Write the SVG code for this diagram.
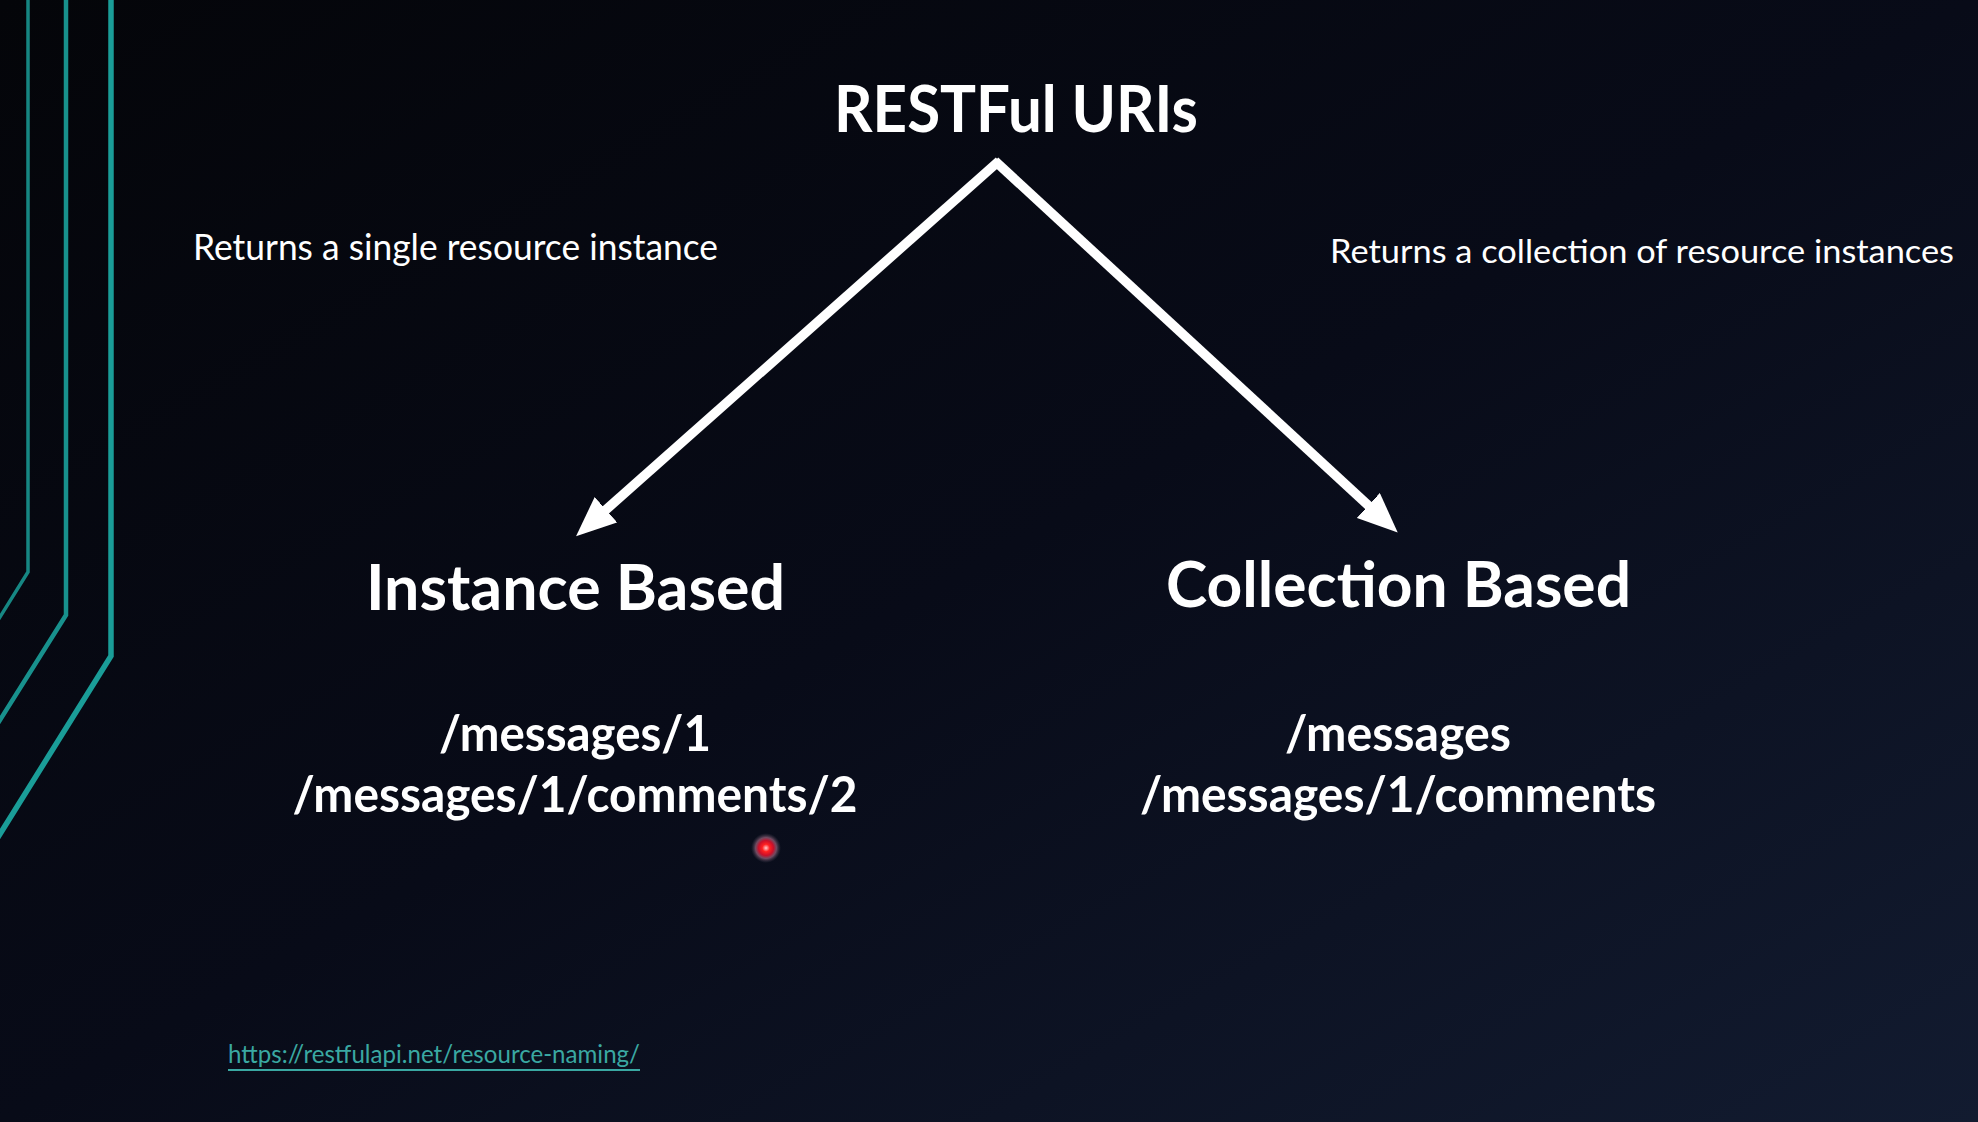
<svg xmlns="http://www.w3.org/2000/svg" width="1978" height="1122" viewBox="0 0 1978 1122">
<defs>
<linearGradient id="bg" x1="0" y1="0" x2="1" y2="1">
<stop offset="0" stop-color="#040509"/>
<stop offset="0.5" stop-color="#080b18"/>
<stop offset="1" stop-color="#121b30"/>
</linearGradient>
<radialGradient id="dot">
<stop offset="0" stop-color="#ffd0d0"/>
<stop offset="0.25" stop-color="#ff2020"/>
<stop offset="0.5" stop-color="#c8102a"/>
<stop offset="0.7" stop-color="#8a5a72" stop-opacity="0.8"/>
<stop offset="1" stop-color="#404050" stop-opacity="0"/>
</radialGradient>
<marker id="ah" viewBox="0 0 40 34" markerWidth="40" markerHeight="34" refX="20" refY="17" orient="auto" markerUnits="userSpaceOnUse">
<path d="M0,0 L40,17 L0,34 z" fill="#ffffff"/>
</marker>
<style>
.t{font-family:Lato,"Open Sans","Liberation Sans",sans-serif;fill:#ffffff}
.b{font-weight:bold}
.deco{fill:none;stroke:#1a9d98}
.arr{stroke:#ffffff;stroke-width:9.5;fill:none}
</style>
</defs>
<rect width="1978" height="1122" fill="url(#bg)"/>
<g id="decoration">
<polyline class="deco" points="28,-5 28,572 -10,633" stroke-width="3.5" opacity="0.85"/>
<polyline class="deco" points="66,-5 66,615 -10,736" stroke-width="4.5" opacity="0.92"/>
<polyline class="deco" points="111,-5 111,656 -10,850" stroke-width="5.5"/>
</g>
<g id="connectors">
<line class="arr" x1="999" y1="161" x2="591" y2="523" marker-end="url(#ah)"/>
<line class="arr" x1="995" y1="161" x2="1383" y2="519" marker-end="url(#ah)"/>
</g>
<g id="root">
<text class="t b" x="1016" y="132" font-size="65" text-anchor="middle" textLength="364" lengthAdjust="spacingAndGlyphs">RESTFul URIs</text>
</g>
<g id="note-single">
<text class="t" x="193" y="260" font-size="37" textLength="525" lengthAdjust="spacingAndGlyphs">Returns a single resource instance</text>
</g>
<g id="note-collection">
<text class="t" x="1330" y="263" font-size="33" textLength="624" lengthAdjust="spacingAndGlyphs">Returns a collection of resource instances</text>
</g>
<g id="instance">
<text class="t b" x="366" y="610" font-size="63" textLength="419" lengthAdjust="spacingAndGlyphs">Instance Based</text>
<text class="t b" x="575" y="751" font-size="49" text-anchor="middle" textLength="272" lengthAdjust="spacingAndGlyphs">/messages/1</text>
<text class="t b" x="575" y="812" font-size="49" text-anchor="middle" textLength="565" lengthAdjust="spacingAndGlyphs">/messages/1/comments/2</text>
</g>
<g id="collection">
<text class="t b" x="1166" y="607" font-size="63" textLength="465" lengthAdjust="spacingAndGlyphs">Collection Based</text>
<text class="t b" x="1398" y="751" font-size="49" text-anchor="middle" textLength="226" lengthAdjust="spacingAndGlyphs">/messages</text>
<text class="t b" x="1398" y="812" font-size="49" text-anchor="middle" textLength="516" lengthAdjust="spacingAndGlyphs">/messages/1/comments</text>
</g>
<g id="link">
<text class="t" x="228" y="1063" font-size="25" style="fill:#3aa8a2" textLength="412" lengthAdjust="spacingAndGlyphs">https://restfulapi.net/resource-naming/</text>
<line x1="228" y1="1070" x2="640" y2="1070" stroke="#3aa8a2" stroke-width="1.8"/>
</g>
<circle cx="766" cy="848" r="15" fill="url(#dot)"/>
</svg>
